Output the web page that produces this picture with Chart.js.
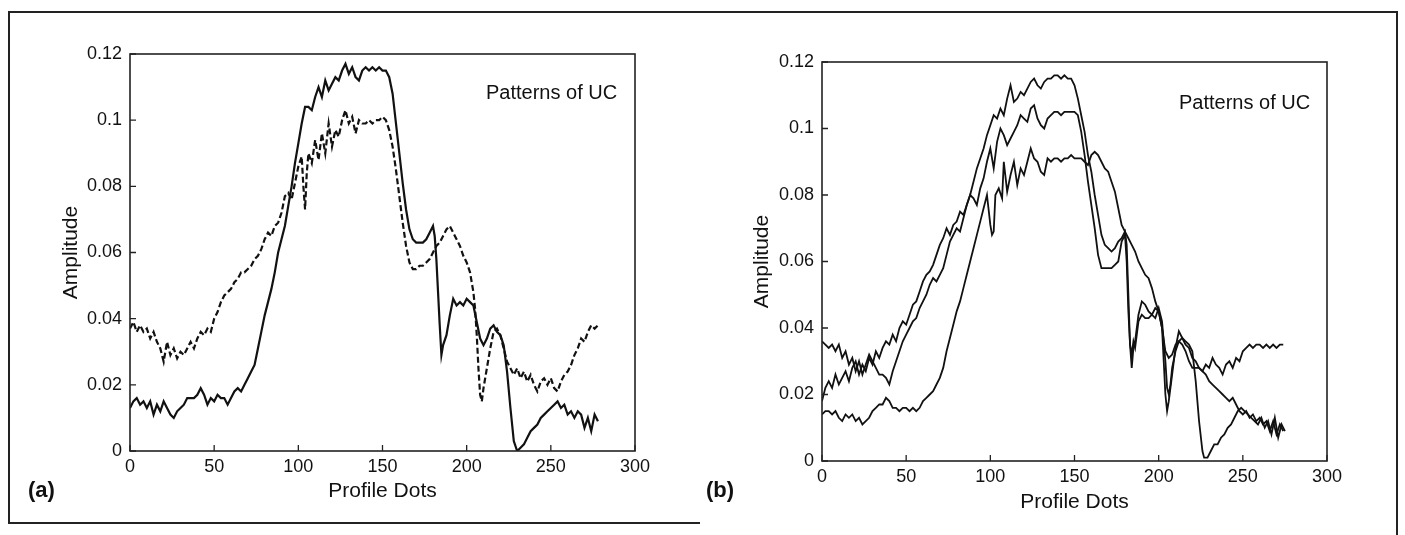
<!DOCTYPE html>
<html><head><meta charset="utf-8">
<script src="https://cdn.jsdelivr.net/npm/chart.js@4/dist/chart.umd.min.js"></script>
<style>
html,body{margin:0;padding:0;background:#fff;}
#wrap{position:relative;width:1405px;height:535px;overflow:hidden;background:#fff;font-family:"Liberation Sans",Arial,sans-serif;}
canvas{position:absolute;top:0;}
.t{position:absolute;color:#111;white-space:nowrap;line-height:1;}
.frame{position:absolute;border-color:#222;border-style:solid;border-width:0;}
</style></head>
<body><div id="wrap">
<div class="frame" style="left:8px;top:11px;width:1390px;height:0;border-top-width:2px;"></div>
<div class="frame" style="left:8px;top:11px;width:0;height:512px;border-left-width:2px;"></div>
<div class="frame" style="left:8px;top:522px;width:692px;height:0;border-top-width:2px;"></div>
<div class="frame" style="left:1396px;top:11px;width:0;height:524px;border-left-width:2px;"></div>
<canvas id="ca" width="700" height="535" style="left:0;width:700px;height:535px"></canvas>
<canvas id="cb" width="705" height="535" style="left:700px;width:705px;height:535px"></canvas>
<div class="t" style="left:486px;top:82px;font-size:20px;">Patterns of UC</div>
<div class="t" style="left:1179px;top:92px;font-size:20px;">Patterns of UC</div>
<div class="t" style="left:28px;top:479px;font-size:22px;font-weight:bold;">(a)</div>
<div class="t" style="left:706px;top:479px;font-size:22px;font-weight:bold;">(b)</div>
</div>
<script>
// ---- tick labels ----
const xTickValues = [0, 50, 100, 150, 200, 250, 300];
const yTickValues = [0, 0.02, 0.04, 0.06, 0.08, 0.1, 0.12];
const yTickLabels = ['0', '0.02', '0.04', '0.06', '0.08', '0.1', '0.12'];

// ---- panel (a): solid series ----
const aSolidX = [0,2,4,6,8,10,12,14,16,18,20,22,24,26,28,30,32,34,36,38,40,42,44,46,48,50,52,54,56,58,60,62,64,66,68,70,72,74,76,78,80,82,84,86,88,90,92,94,96,98,100,102,104,106,108,110,112,114,116,118,120,122,124,126,128,130,132,134,136,138,140,142,144,146,148,150,152,154,156,158,160,162,164,166,168,170,172,174,176,178,180,181,182,183,184,185,186,188,190,192,194,196,198,200,202,204,206,208,210,212,214,216,218,220,222,224,226,228,230,232,234,236,238,240,242,244,246,248,250,252,254,256,258,260,262,264,266,268,270,272,274,276,278];
const aSolidY = [0.013,0.015,0.016,0.014,0.015,0.013,0.015,0.011,0.014,0.012,0.015,0.013,0.011,0.010,0.012,0.013,0.014,0.016,0.016,0.016,0.017,0.019,0.017,0.014,0.016,0.015,0.017,0.016,0.016,0.014,0.016,0.018,0.019,0.018,0.020,0.022,0.024,0.026,0.031,0.036,0.041,0.045,0.049,0.054,0.060,0.064,0.068,0.074,0.080,0.087,0.093,0.099,0.104,0.104,0.103,0.107,0.110,0.107,0.112,0.109,0.111,0.113,0.112,0.115,0.117,0.114,0.116,0.113,0.112,0.115,0.116,0.115,0.116,0.115,0.116,0.115,0.115,0.113,0.108,0.099,0.090,0.081,0.073,0.067,0.064,0.063,0.063,0.063,0.064,0.066,0.068,0.065,0.058,0.048,0.038,0.029,0.032,0.035,0.041,0.046,0.044,0.045,0.044,0.046,0.045,0.044,0.039,0.034,0.032,0.034,0.037,0.038,0.036,0.035,0.032,0.024,0.013,0.003,0.000,0.001,0.002,0.004,0.006,0.007,0.008,0.010,0.011,0.012,0.013,0.014,0.015,0.013,0.014,0.011,0.012,0.010,0.012,0.011,0.007,0.010,0.006,0.011,0.009];

// ---- panel (a): dashed series ----
const aDashX = [0,2,4,6,8,10,12,14,16,18,20,22,24,26,28,30,32,34,36,38,40,42,44,46,48,50,52,54,56,58,60,62,64,66,68,70,72,74,76,78,80,82,84,86,88,90,92,94,96,98,100,102,103,104,105,106,108,110,112,114,116,118,120,122,124,126,128,130,132,134,136,138,140,142,144,146,148,150,152,154,156,158,160,162,164,166,168,170,172,174,176,178,180,182,184,186,188,190,192,194,196,198,200,202,204,205,206,207,208,209,210,212,214,216,218,220,222,224,226,228,230,232,234,236,238,240,242,244,246,248,250,252,254,256,258,260,262,264,266,268,270,272,274,276,278];
const aDashY = [0.037,0.039,0.036,0.038,0.036,0.037,0.034,0.036,0.033,0.031,0.027,0.033,0.029,0.031,0.028,0.030,0.029,0.031,0.033,0.031,0.034,0.036,0.035,0.037,0.036,0.040,0.042,0.045,0.047,0.048,0.049,0.051,0.052,0.054,0.054,0.055,0.056,0.058,0.059,0.061,0.064,0.066,0.065,0.068,0.069,0.072,0.077,0.078,0.076,0.081,0.086,0.089,0.080,0.073,0.084,0.090,0.087,0.094,0.088,0.096,0.090,0.099,0.092,0.097,0.095,0.100,0.103,0.099,0.101,0.096,0.100,0.099,0.099,0.100,0.099,0.100,0.100,0.101,0.100,0.097,0.092,0.085,0.077,0.069,0.062,0.057,0.055,0.055,0.056,0.056,0.057,0.058,0.060,0.062,0.063,0.065,0.067,0.068,0.066,0.064,0.062,0.059,0.057,0.054,0.048,0.043,0.035,0.025,0.017,0.015,0.019,0.025,0.031,0.036,0.037,0.035,0.031,0.027,0.025,0.023,0.025,0.022,0.024,0.021,0.023,0.020,0.018,0.021,0.022,0.020,0.022,0.019,0.018,0.021,0.023,0.024,0.026,0.029,0.031,0.034,0.033,0.036,0.038,0.037,0.038];

// ---- panel (b): three solid series ----
const b1X = [0,2,4,6,8,10,12,14,16,18,20,22,24,26,28,30,32,34,36,38,40,42,44,46,48,50,52,54,56,58,60,62,64,66,68,70,72,74,76,78,80,82,84,86,88,90,92,94,96,98,100,101,102,103,105,107,108,110,112,114,116,118,120,122,124,126,128,130,132,134,136,138,140,142,144,146,148,150,152,154,156,158,160,162,164,166,168,170,172,174,176,178,180,182,184,186,188,190,192,194,196,198,200,202,204,206,208,210,212,214,216,218,220,222,224,226,228,230,232,234,236,238,240,242,244,246,248,250,252,254,256,258,260,262,264,266,268,270,272,274];
const b1Y = [0.014,0.015,0.015,0.014,0.015,0.013,0.012,0.014,0.013,0.014,0.012,0.013,0.011,0.012,0.013,0.015,0.016,0.017,0.017,0.019,0.018,0.016,0.016,0.015,0.016,0.016,0.015,0.016,0.015,0.016,0.018,0.019,0.020,0.021,0.023,0.025,0.028,0.033,0.037,0.041,0.045,0.048,0.052,0.056,0.060,0.064,0.068,0.072,0.076,0.080,0.071,0.068,0.069,0.080,0.082,0.079,0.090,0.081,0.086,0.090,0.083,0.088,0.086,0.090,0.094,0.091,0.090,0.087,0.086,0.091,0.090,0.091,0.091,0.090,0.091,0.091,0.092,0.091,0.091,0.091,0.090,0.089,0.092,0.093,0.092,0.090,0.088,0.087,0.084,0.081,0.076,0.071,0.069,0.067,0.065,0.063,0.060,0.058,0.056,0.055,0.052,0.048,0.045,0.040,0.033,0.031,0.032,0.035,0.036,0.035,0.033,0.030,0.028,0.028,0.028,0.027,0.029,0.028,0.031,0.029,0.028,0.026,0.029,0.030,0.028,0.031,0.030,0.033,0.034,0.035,0.034,0.035,0.035,0.034,0.035,0.034,0.035,0.034,0.035,0.035];

const b2X = [0,2,4,6,8,10,12,14,16,18,20,22,24,26,28,30,32,34,36,38,40,42,44,46,48,50,52,54,56,58,60,62,64,66,68,70,72,74,76,78,80,82,84,86,88,90,92,94,96,98,100,102,104,106,108,110,112,114,116,118,120,122,124,126,128,130,132,134,136,138,140,142,144,146,148,150,152,154,156,158,160,162,164,166,168,170,172,174,176,178,180,181,182,183,184,185,186,188,190,192,194,196,198,200,202,203,204,205,206,208,210,212,214,216,218,220,222,224,226,227,229,231,233,235,237,239,241,243,245,247,249,251,253,255,257,259,261,263,265,267,269,271,273,275];
const b2Y = [0.018,0.022,0.024,0.022,0.026,0.023,0.025,0.027,0.024,0.028,0.030,0.026,0.029,0.027,0.031,0.029,0.033,0.031,0.034,0.036,0.035,0.038,0.036,0.040,0.042,0.041,0.044,0.047,0.048,0.051,0.054,0.056,0.057,0.059,0.062,0.065,0.067,0.070,0.068,0.071,0.072,0.075,0.074,0.077,0.080,0.084,0.088,0.091,0.094,0.098,0.101,0.104,0.103,0.106,0.104,0.109,0.113,0.108,0.109,0.111,0.110,0.112,0.114,0.115,0.113,0.112,0.114,0.115,0.115,0.116,0.116,0.115,0.116,0.115,0.115,0.113,0.109,0.104,0.099,0.092,0.087,0.080,0.074,0.068,0.065,0.064,0.063,0.064,0.066,0.067,0.069,0.065,0.050,0.035,0.028,0.034,0.036,0.044,0.048,0.047,0.045,0.044,0.046,0.045,0.040,0.030,0.020,0.015,0.018,0.026,0.034,0.039,0.037,0.036,0.035,0.033,0.024,0.012,0.003,0.001,0.001,0.003,0.005,0.005,0.007,0.008,0.010,0.011,0.013,0.015,0.016,0.015,0.014,0.013,0.012,0.011,0.013,0.010,0.012,0.008,0.013,0.007,0.011,0.009];

const b3X = [0,2,4,6,8,10,12,14,16,18,20,22,24,26,28,30,32,34,36,38,40,42,44,46,48,50,52,54,56,58,60,62,64,66,68,70,72,74,76,78,80,82,84,86,88,90,92,94,96,98,100,102,104,106,108,110,112,114,116,118,120,122,124,126,128,130,132,134,136,138,140,142,144,146,148,150,152,154,156,158,160,162,164,166,168,170,172,174,176,178,180,181,182,183,184,185,186,188,190,192,194,196,198,200,202,204,205,206,207,208,210,212,214,216,218,220,222,224,226,228,230,232,234,236,238,240,242,244,246,248,250,252,254,256,258,260,262,264,266,268,270,272,274];
const b3Y = [0.036,0.035,0.034,0.035,0.033,0.035,0.031,0.033,0.029,0.031,0.027,0.030,0.026,0.029,0.032,0.030,0.028,0.026,0.026,0.025,0.023,0.027,0.030,0.033,0.036,0.038,0.040,0.042,0.043,0.046,0.048,0.050,0.053,0.055,0.054,0.056,0.058,0.062,0.066,0.068,0.070,0.069,0.073,0.077,0.080,0.079,0.077,0.082,0.085,0.090,0.094,0.088,0.096,0.100,0.098,0.095,0.097,0.099,0.101,0.104,0.103,0.102,0.106,0.107,0.103,0.101,0.100,0.103,0.104,0.105,0.105,0.104,0.105,0.105,0.105,0.105,0.104,0.099,0.092,0.084,0.077,0.070,0.062,0.058,0.058,0.058,0.058,0.059,0.060,0.066,0.068,0.060,0.045,0.035,0.032,0.036,0.034,0.042,0.044,0.043,0.043,0.044,0.043,0.046,0.042,0.030,0.022,0.020,0.023,0.028,0.033,0.036,0.037,0.035,0.034,0.031,0.030,0.028,0.027,0.026,0.024,0.023,0.022,0.021,0.020,0.019,0.018,0.019,0.017,0.015,0.014,0.015,0.013,0.014,0.012,0.013,0.011,0.012,0.009,0.012,0.008,0.011,0.009];

function pts(xs, ys) { return xs.map((x, i) => ({ x: x, y: ys[i] })); }

const FONT = '"Liberation Sans", Arial, sans-serif';

const boxPlugin = {
  id: 'box',
  afterDraw(chart) {
    const { ctx, chartArea: a, scales } = chart;
    ctx.save();
    ctx.strokeStyle = '#222';
    ctx.lineWidth = 1.6;
    ctx.strokeRect(a.left, a.top, a.right - a.left, a.bottom - a.top);
    ctx.lineWidth = 1.3;
    ctx.beginPath();
    xTickValues.forEach(v => {
      const px = scales.x.getPixelForValue(v);
      ctx.moveTo(px, a.bottom); ctx.lineTo(px, a.bottom - 6);
    });
    yTickValues.forEach(v => {
      const py = scales.y.getPixelForValue(v);
      ctx.moveTo(a.left, py); ctx.lineTo(a.left + 6, py);
    });
    ctx.stroke();
    ctx.restore();
  }
};

function makeChart(id, datasets, g) {
  return new Chart(document.getElementById(id), {
    type: 'line',
    data: { datasets: datasets },
    options: {
      responsive: false,
      animation: false,
      events: [],
      layout: { padding: { left: 0, top: g.top, right: g.right, bottom: 0 } },
      plugins: { legend: { display: false }, tooltip: { enabled: false } },
      elements: { point: { radius: 0 }, line: { tension: 0, borderJoinStyle: 'miter' } },
      scales: {
        x: {
          type: 'linear', min: 0, max: 300,
          afterBuildTicks: s => { s.ticks = xTickValues.map(v => ({ value: v })); },
          afterFit: s => { s.height = g.xh; },
          grid: { display: false, drawTicks: false },
          border: { display: false },
          ticks: { color: '#111', font: { family: FONT, size: 18 }, padding: 5, maxRotation: 0,
                   callback: v => String(v) },
          title: { display: true, text: 'Profile Dots', color: '#111',
                   font: { family: FONT, size: 21 }, padding: { top: 0, bottom: g.xtpad } }
        },
        y: {
          type: 'linear', min: 0, max: 0.12,
          afterBuildTicks: s => { s.ticks = yTickValues.map(v => ({ value: v })); },
          afterFit: s => { s.width = g.yw; },
          grid: { display: false, drawTicks: false },
          border: { display: false },
          ticks: { color: '#111', font: { family: FONT, size: 18 }, padding: 8,
                   callback: (v, i) => yTickLabels[i] },
          title: { display: true, text: 'Amplitude', color: '#111',
                   font: { family: FONT, size: 21 }, padding: { top: g.ytpad, bottom: 0 } }
        }
      }
    },
    plugins: [boxPlugin]
  });
}

makeChart('ca', [
  { data: pts(aSolidX, aSolidY), borderColor: '#111', borderWidth: 2.2, fill: false },
  { data: pts(aDashX, aDashY), borderColor: '#111', borderWidth: 2.2, borderDash: [6, 3], fill: false }
], { top: 54, right: 65, xh: 84, yw: 130, xtpad: 31, ytpad: 59 });

makeChart('cb', [
  { data: pts(b1X, b1Y), borderColor: '#111', borderWidth: 1.8, fill: false },
  { data: pts(b2X, b2Y), borderColor: '#111', borderWidth: 1.8, fill: false },
  { data: pts(b3X, b3Y), borderColor: '#111', borderWidth: 1.8, fill: false }
], { top: 62, right: 78, xh: 74, yw: 122, xtpad: 20, ytpad: 50 });
</script>
</body></html>
